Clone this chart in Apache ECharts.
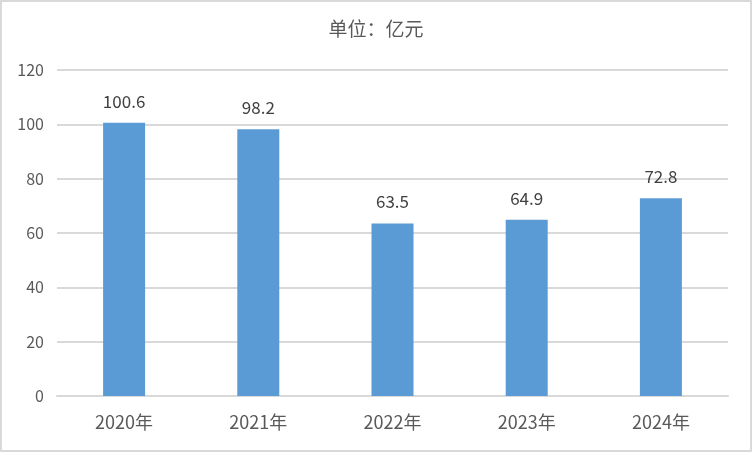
<!DOCTYPE html>
<html><head><meta charset="utf-8">
<script src="https://cdn.jsdelivr.net/npm/echarts@6/dist/echarts.min.js"></script>
<style>html,body{margin:0;padding:0;background:#fff}#c{width:752px;height:452px;box-sizing:border-box;border:2px solid #d9d9d9}</style>
</head><body><div id="c"></div>
<script>
const categories = ['2020年','2021年','2022年','2023年','2024年'];
const values = [100.6, 98.2, 63.5, 64.9, 72.8];
const titleText = '单位：亿元';
const chart = echarts.init(document.getElementById('c'), null, {renderer:'canvas'});
const font = '"Microsoft YaHei","Noto Sans CJK SC","Liberation Sans",sans-serif';
chart.setOption({
  animation:false,
  title:{text:titleText,left:'center',top:12,textStyle:{fontSize:19,fontWeight:'normal',color:'#595959',fontFamily:font}},
  grid:{left:55,right:22,top:68,bottom:54},
  xAxis:{type:'category',data:categories,axisLine:{lineStyle:{color:'#d9d9d9',width:2}},axisTick:{show:false},
    axisLabel:{fontSize:18,color:'#595959',margin:17,fontFamily:font}},
  yAxis:{type:'value',min:0,max:120,interval:20,axisLine:{show:false},axisTick:{show:false},
    splitLine:{lineStyle:{color:'#d9d9d9',width:2}},axisLabel:{fontSize:16,color:'#595959',margin:13,fontFamily:font}},
  series:[{type:'bar',data:values,barWidth:42,itemStyle:{color:'#5b9bd5'},
    label:{show:true,position:'top',distance:13,fontSize:17,color:'#404040',fontFamily:font}}]
});
</script></body></html>
